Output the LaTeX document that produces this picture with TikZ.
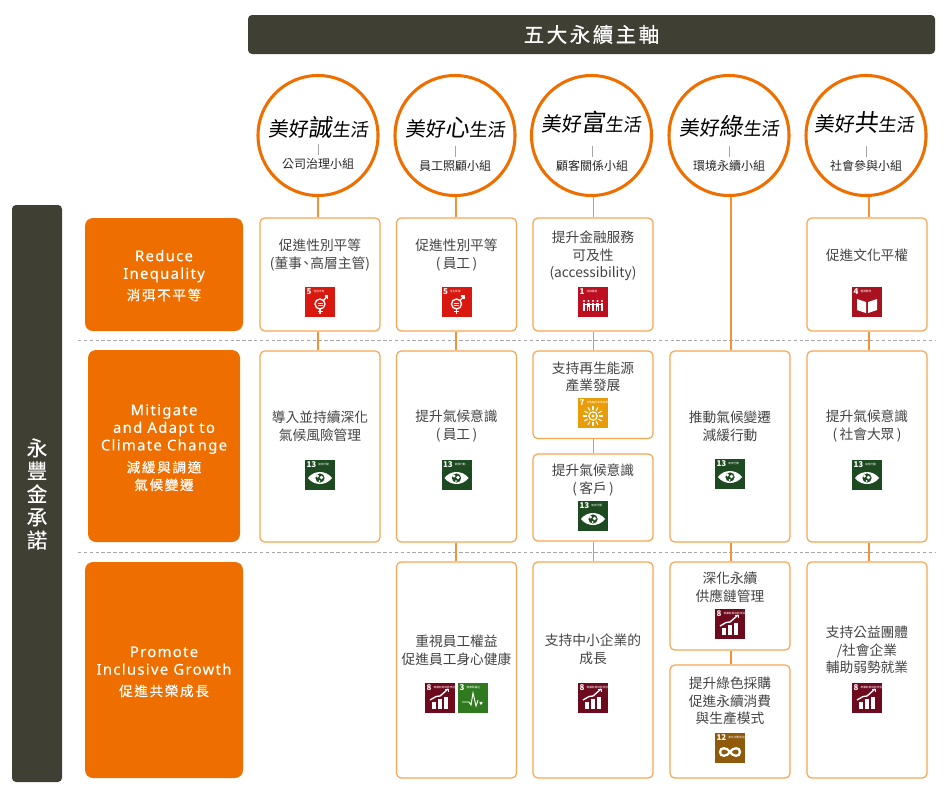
\documentclass[tikz,border=0pt]{standalone}
\usepackage{fontspec}
\setmainfont{Noto Sans CJK TC}
\newfontfamily\engfont[LetterSpace=9,FakeBold=0.35]{Noto Sans}
\newfontfamily\widefont[LetterSpace=12,FakeBold=0.35]{Noto Sans CJK TC}
\newfontfamily\brushfont[FakeSlant=0.12]{Noto Sans CJK TC}
\newfontfamily\pledgefont[FakeBold=0.4]{Noto Sans CJK TC}
\definecolor{barfill}{HTML}{403F33}
\definecolor{goalorange}{HTML}{EE6F00}
\definecolor{boxedge}{HTML}{F6A552}
\definecolor{linkedge}{HTML}{F39237}
\definecolor{bodytext}{HTML}{444444}
\definecolor{sdgred}{HTML}{D9190F}
\definecolor{sdgcrimson}{HTML}{BE0F20}
\definecolor{sdgbook}{HTML}{A8121F}
\definecolor{sdgyellow}{HTML}{E89C07}
\definecolor{sdgmaroon}{HTML}{6E0A1E}
\definecolor{sdggreen}{HTML}{2F7A1E}
\definecolor{sdgbrown}{HTML}{8F5A0C}
\definecolor{sdgforest}{HTML}{1E4A22}
\tikzset{
  barbox/.style={fill=barfill,rounded corners=3pt,inner sep=0pt,text=white},
  goalbox/.style={fill=goalorange,rounded corners=6pt,inner sep=0pt},
  boxsize/.style 2 args={minimum width=#1*0.75pt,minimum height=#2*0.75pt},
  itembox/.style={draw=boxedge,line width=0.9pt,fill=white,rounded corners=3.5pt,inner sep=0pt},
  itemtext/.style={text=bodytext,align=center,inner sep=0pt,yshift=-0.75pt,font=\fontsize{10.3}{13.2}\selectfont},
  linkline/.style={draw=linkedge,line width=0.9pt},
  rowline/.style={draw=gray!70,line width=0.6pt,dash pattern=on 2.6pt off 1.8pt},
  teamcircle/.style={circle,draw=goalorange,line width=2.3pt,fill=white,minimum size=90pt,inner sep=0pt},
  teamname/.style={inner sep=0pt,text=black!85,yshift=-0.75pt,font=\fontsize{9}{9}\selectfont},
  brushname/.style={inner sep=0pt,text=black},
  teamtick/.style={draw=gray!70,line width=0.5pt},
  goaleng/.style={text=white,align=center,inner sep=0pt,yshift=-1.2pt,font=\engfont\fontsize{11.1}{13.2}\selectfont},
  goalzh/.style={text=white,align=center,inner sep=0pt,font=\widefont\fontsize{10.2}{13.2}\selectfont},
  sdgsquare/.style={minimum size=22.5pt,inner sep=0pt},
  sdgnum/.style={text=white,inner sep=0pt,font=\bfseries\fontsize{6}{6}\selectfont},
  sdgcap/.style={text=white,inner sep=0pt,anchor=west,font=\fontsize{2}{2}\selectfont},
  glyph/.style={draw=white,line width=0.7pt},
  solidglyph/.style={fill=white}
}
% glyphs of the goal icons, drawn around the centre of the square
\newcommand{\glyphone}{
  \foreach \gx in {-9,-4.5,0,4.5,9} {
    \fill[solidglyph] (\gx,-1) circle [radius=1.2];
    \fill[solidglyph] (\gx-1.4,0.6) rectangle (\gx+1.4,5);
    \fill[solidglyph] (\gx-1.4,5) rectangle (\gx-0.4,8.5);
    \fill[solidglyph] (\gx+0.4,5) rectangle (\gx+1.4,8.5);
  }
  \draw[glyph,line width=0.4pt] (-10,2) -- (10,2);
}
\newcommand{\glyphthree}{
  \draw[glyph] (-11,4) -- (-4,4) -- (-2,7) -- (0,-5) -- (3,8) -- (5,2);
  \fill[solidglyph] (8,7) -- (5.5,3.5) arc [start angle=180,end angle=0,x radius=1.25,y radius=1.25] arc [start angle=180,end angle=0,x radius=1.25,y radius=1.25] -- cycle;
}
\newcommand{\glyphfour}{
  \fill[solidglyph] (-10,-3) -- (-1,0) -- (-1,11) -- (-10,8) -- cycle;
  \fill[solidglyph] (10,-3) -- (1,0) -- (1,11) -- (10,8) -- cycle;
}
\newcommand{\glyphfive}{
  \draw[glyph,line width=1pt] (0,2) circle [radius=5];
  \draw[glyph,line width=1pt] (3.5,-1.5) -- (7.5,-6);
  \draw[glyph,line width=0.8pt] (4.5,-6) -- (7.5,-6) -- (7.5,-3);
  \draw[glyph,line width=1pt] (0,7) -- (0,12) (-2.5,9.5) -- (2.5,9.5);
  \draw[glyph] (-2.5,1) -- (2.5,1) (-2.5,3) -- (2.5,3);
}
\newcommand{\glyphseven}{
  \draw[glyph,line width=0.9pt] (0,3) circle [radius=4.2];
  \fill[solidglyph] (0,3) circle [radius=1.6];
  \foreach \ga in {0,30,...,330} {
    \draw[glyph,line width=0.8pt] (\ga:6)++(0,3) -- ++(\ga:4);
  }
}
\newcommand{\glypheight}{
  \fill[solidglyph] (-8,4) rectangle (-4,11);
  \fill[solidglyph] (-2,1) rectangle (2,11);
  \fill[solidglyph] (4,-1) rectangle (8,11);
  \draw[glyph,line width=1pt] (-10,2) -- (-4,-1.5) -- (0,-2) -- (8,-9);
  \draw[glyph] (5,-9) -- (8,-9) -- (8,-6);
}
\newcommand{\glyphtwelve}{
  \draw[glyph,line width=1.7pt] (0,4) .. controls (-3,-1) and (-10,-1) .. (-10,4) .. controls (-10,9) and (-3,9) .. (0,4) .. controls (3,-1) and (10,-1) .. (10,4) .. controls (10,9) and (3,9) .. (0,4) -- cycle;
}
\newcommand{\glyphthirteen}{
  \fill[solidglyph] (-12,3) .. controls (-6,-5) and (6,-5) .. (12,3) .. controls (6,11) and (-6,11) .. (-12,3) -- cycle;
  \fill[sdgforest] (0,3) circle [radius=4.6];
  \fill[solidglyph] (-2.5,1) circle [radius=1.6];
  \fill[solidglyph] (1.5,2.5) circle [radius=1.8];
  \fill[solidglyph] (-0.5,6) circle [radius=1];
}
% name, x, y, colour, number, caption, glyph
\newcommand{\sdgicon}[7]{
  \node (#1) [sdgsquare,fill=#4] at (#2,#3) {};
  \node (#1num) [sdgnum,anchor=north west] at ([xshift=1.2pt,yshift=-1pt]#1.north west) {#5};
  \node (#1cap) [sdgcap] at ([xshift=1.2pt]#1num.east) {#6};
  \begin{scope}[shift={(#2,#3)}]
    #7
  \end{scope}
}
\newcommand{\brush}[1]{\brushfont\fontsize{15}{15}\selectfont 美好{\fontsize{18}{18}\selectfont #1}{\fontsize{13.5}{13.5}\selectfont 生活}}
\begin{document}
\begin{tikzpicture}[x=0.75pt,y=-0.75pt]
  \useasboundingbox (0,0) rectangle (944,803);
  % bars
  \node (pillars) [barbox,boxsize={687}{39},font=\widefont\fontsize{15.4}{15.4}\selectfont] at (591.5,34.5) {五大永續主軸};
  \node (pledge) [barbox,boxsize={50}{577}] at (37,493.5) {};
  \node (pledgetext) [text=white,align=center,inner sep=0pt,font=\pledgefont\fontsize{15.5}{17.3}\selectfont] at (37,494) {永\\豐\\金\\承\\諾};
  % row lines and spines
  \coordinate (rowa) at (78,340.5);
  \coordinate (rowb) at (78,552);
  \draw[rowline] (rowa) -- (935,340.5);
  \draw[rowline] (rowb) -- (935,552);
  \coordinate (spine1) at (318,0);
  \coordinate (spine2) at (456,0);
  \coordinate (spine3) at (593.5,0);
  \coordinate (spine4) at (731,0);
  \coordinate (spine5) at (869,0);
  % teams
  \node (circ1) [teamcircle] at (318,135.5) {};
  \node (circ2) [teamcircle] at (455,135.5) {};
  \node (circ3) [teamcircle] at (591.5,135.5) {};
  \node (circ4) [teamcircle] at (729,135.5) {};
  \node (circ5) [teamcircle] at (866,135.5) {};
  \node (brush1) [brushname] at (318,127) {\brush{誠}};
  \node (brush2) [brushname] at (455,128) {\brush{心}};
  \node (brush3) [brushname] at (591.5,122) {\brush{富}};
  \node (brush4) [brushname] at (729,126) {\brush{綠}};
  \node (brush5) [brushname] at (864,122) {\brush{共}};
  \node (team1) [teamname] at (318,163) {公司治理小組};
  \node (team2) [teamname] at (455,165) {員工照顧小組};
  \node (team3) [teamname] at (592,165) {顧客關係小組};
  \node (team4) [teamname] at (729,165) {環境永續小組};
  \node (team5) [teamname] at (866,165) {社會參與小組};
  \foreach \n in {1,2,3,4,5} {
    \draw[teamtick] (team\n.north) ++(0,-3) -- ++(0,-11);
  }
  % goals
  \node (goala) [goalbox,boxsize={158}{113}] at (164,274.5) {};
  \node (goalb) [goalbox,boxsize={152}{192}] at (164,446) {};
  \node (goalc) [goalbox,boxsize={158}{216}] at (164,670) {};
  \node (goalaeng) [goaleng] at (164,264.5) {Reduce\\Inequality};
  \node (goalazh) [goalzh] at (164,295) {消弭不平等};
  \node (goalbeng) [goaleng] at (164,427.5) {Mitigate\\and Adapt to\\Climate Change};
  \node (goalbzh) [goalzh] at (164,476) {減緩與調適\\氣候變遷};
  \node (goalceng) [goaleng] at (164,659) {Promote\\Inclusive Growth};
  \node (goalczh) [goalzh] at (164,691) {促進共榮成長};
  % item boxes
  \node (c1r1) [itembox,boxsize={120}{113}] at (320,274.5) {};
  \node (c2r1) [itembox,boxsize={120}{113}] at (456.5,274.5) {};
  \node (c3r1) [itembox,boxsize={120}{113}] at (593,274.5) {};
  \node (c5r1) [itembox,boxsize={120}{113}] at (867,274.5) {};
  \node (c1r2) [itembox,boxsize={120}{191}] at (320,446.5) {};
  \node (c2r2) [itembox,boxsize={120}{191}] at (456.5,446.5) {};
  \node (c3r2a) [itembox,boxsize={120}{87.5}] at (593,394.75) {};
  \node (c3r2b) [itembox,boxsize={120}{87}] at (593,497.5) {};
  \node (c4r2) [itembox,boxsize={120}{191}] at (730,446.5) {};
  \node (c5r2) [itembox,boxsize={120}{191}] at (867,446.5) {};
  \node (c2r3) [itembox,boxsize={120}{216}] at (456.5,670) {};
  \node (c3r3) [itembox,boxsize={120}{216}] at (593,670) {};
  \node (c4r3a) [itembox,boxsize={120}{88}] at (730,606) {};
  \node (c4r3b) [itembox,boxsize={120}{113}] at (730,721.5) {};
  \node (c5r3) [itembox,boxsize={120}{216}] at (867,670) {};
  % connectors
  \foreach \sp/\from/\to in {spine1/circ1/c1r1,spine1/c1r1/c1r2,
      spine2/circ2/c2r1,spine2/c2r1/c2r2,spine2/c2r2/c2r3,
      spine3/circ3/c3r1,spine3/c3r1/c3r2a,spine3/c3r2a/c3r2b,spine3/c3r2b/c3r3,
      spine4/circ4/c4r2,spine4/c4r2/c4r3a,spine4/c4r3a/c4r3b,
      spine5/circ5/c5r1,spine5/c5r1/c5r2,spine5/c5r2/c5r3} {
    \draw[linkline] (\sp |- \from.south) -- (\sp |- \to.north);
  }
  % item texts
  \node (t1a) [itemtext] at (320,254) {促進性別平等\\(董事\kern-2pt、\kern-2pt 高層主管)};
  \node (t2a) [itemtext] at (456.5,254) {促進性別平等\\(\,員工\,)};
  \node (t3a) [itemtext,yshift=-0.75pt] at (593,254) {提升金融服務\\可及性\\(accessibility)};
  \node (t5a) [itemtext] at (867,254) {促進文化平權};
  \node (t1b) [itemtext] at (320,425) {導入並持續深化\\氣候風險管理};
  \node (t2b) [itemtext] at (456.5,425) {提升氣候意識\\(\,員工\,)};
  \node (t3b) [itemtext] at (593,376) {支持再生能源\\產業發展};
  \node (t3c) [itemtext] at (593,479) {提升氣候意識\\(\,客戶\,)};
  \node (t4b) [itemtext] at (730,425) {推動氣候變遷\\減緩行動};
  \node (t5b) [itemtext] at (867,425) {提升氣候意識\\(\,社會大眾\,)};
  \node (t2d) [itemtext] at (456.5,649) {重視員工權益\\促進員工身心健康};
  \node (t3d) [itemtext] at (593,648.5) {支持中小企業的\\成長};
  \node (t4d) [itemtext] at (730,586) {深化永續\\供應鏈管理};
  \node (t4e) [itemtext] at (730,700) {提升綠色採購\\促進永續消費\\與生產模式};
  \node (t5d) [itemtext] at (867,649) {支持公益團體\\/社會企業\\輔助弱勢就業};
  % goal icons
  \sdgicon{ia}{320}{302}{sdgred}{5}{性別平等}{\glyphfive}
  \sdgicon{ib}{456.5}{302}{sdgred}{5}{性別平等}{\glyphfive}
  \sdgicon{ic}{593}{302}{sdgcrimson}{1}{消除貧窮}{\glyphone}
  \sdgicon{id}{867}{302}{sdgbook}{4}{優質教育}{\glyphfour}
  \sdgicon{ie}{320}{475}{sdgforest}{13}{氣候行動}{\glyphthirteen}
  \sdgicon{if}{456.5}{475}{sdgforest}{13}{氣候行動}{\glyphthirteen}
  \sdgicon{ig}{593}{413}{sdgyellow}{7}{可負擔的潔淨能源}{\glyphseven}
  \sdgicon{ih}{593}{516}{sdgforest}{13}{氣候行動}{\glyphthirteen}
  \sdgicon{ii}{730}{474}{sdgforest}{13}{氣候行動}{\glyphthirteen}
  \sdgicon{ij}{867}{475}{sdgforest}{13}{氣候行動}{\glyphthirteen}
  \sdgicon{ik}{440}{698}{sdgmaroon}{8}{尊嚴就業與經濟發展}{\glypheight}
  \sdgicon{il}{473}{698}{sdggreen}{3}{健康與福祉}{\glyphthree}
  \sdgicon{im}{593}{698}{sdgmaroon}{8}{尊嚴就業與經濟發展}{\glypheight}
  \sdgicon{in}{730}{624}{sdgmaroon}{8}{尊嚴就業與經濟發展}{\glypheight}
  \sdgicon{io}{730}{748}{sdgbrown}{12}{責任消費與生產}{\glyphtwelve}
  \sdgicon{ip}{867}{698}{sdgmaroon}{8}{尊嚴就業與經濟發展}{\glypheight}
\end{tikzpicture}
\end{document}
